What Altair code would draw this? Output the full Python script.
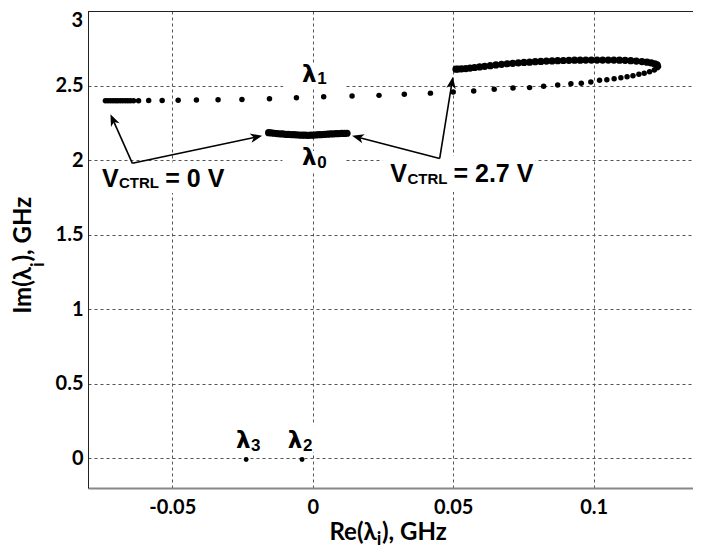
import math
import altair as alt
import pandas as pd

# ---------------- data (GHz) ----------------
# lambda_1 : sparse branch (V_CTRL = 0 V start, moving right)
lam1_re = [-0.0738, -0.0729, -0.0720, -0.0711, -0.0702, -0.0694, -0.0685, -0.0676,
           -0.0667, -0.0658, -0.0649, -0.0638, -0.0620, -0.0584, -0.0536, -0.0479,
           -0.0414, -0.0337, -0.0252, -0.0154, -0.0058, 0.0039, 0.0140, 0.0236,
           0.0326, 0.0419, 0.0500, 0.0573, 0.0646, 0.0713, 0.0772, 0.0822, 0.0872,
           0.0919, 0.0956, 0.0990, 0.1021, 0.1047, 0.1073, 0.1097, 0.1119, 0.1140,
           0.1161, 0.1180, 0.1199, 0.1216, 0.1227, 0.1231]
lam1_im = [2.398, 2.398, 2.398, 2.398, 2.398, 2.398, 2.398, 2.398,
           2.398, 2.398, 2.398, 2.398, 2.398, 2.399, 2.400, 2.401,
           2.403, 2.405, 2.407, 2.411, 2.418, 2.425, 2.430, 2.434,
           2.441, 2.449, 2.457, 2.463, 2.475, 2.484, 2.486, 2.495, 2.503,
           2.512, 2.515, 2.523, 2.535, 2.539, 2.546, 2.552, 2.559, 2.566,
           2.575, 2.582, 2.593, 2.604, 2.619, 2.628]
# lambda_1 : dense branch (back to the left, ending at V_CTRL = 2.7 V)
lam1b_re = [0.1226, 0.1218, 0.1205, 0.1190, 0.1172, 0.1152, 0.1132, 0.1112, 0.1092,
            0.1072, 0.1052, 0.1032, 0.1012, 0.0992, 0.0972, 0.0952, 0.0932, 0.0912,
            0.0892, 0.0872, 0.0852, 0.0832, 0.0812, 0.0792, 0.0772, 0.0752, 0.0732,
            0.0712, 0.0692, 0.0672, 0.0652, 0.0632, 0.0612, 0.0594, 0.0576, 0.0560,
            0.0545, 0.0530, 0.0518, 0.0510]
lam1b_im = [2.638, 2.645, 2.652, 2.657, 2.661, 2.664, 2.667, 2.669, 2.670,
            2.671, 2.671, 2.671, 2.671, 2.671, 2.671, 2.670, 2.670, 2.669,
            2.668, 2.667, 2.665, 2.664, 2.662, 2.660, 2.657, 2.655, 2.652,
            2.649, 2.646, 2.642, 2.638, 2.633, 2.629, 2.625, 2.621, 2.617,
            2.614, 2.612, 2.611, 2.610]
# lambda_0
lam0_re = [-0.0157, -0.0147, -0.0137, -0.0127, -0.0117, -0.0107, -0.0097, -0.0087,
           -0.0077, -0.0067, -0.0057, -0.0047, -0.0037, -0.0027, -0.0017, -0.0007,
           0.0003, 0.0013, 0.0023, 0.0033, 0.0043, 0.0053, 0.0063, 0.0073, 0.0083,
           0.0093, 0.0103, 0.0113, 0.0122]
lam0_im = [2.184, 2.182, 2.180, 2.178, 2.176, 2.175, 2.173, 2.172,
           2.171, 2.170, 2.169, 2.168, 2.167, 2.167, 2.166, 2.167,
           2.168, 2.169, 2.170, 2.171, 2.173, 2.174, 2.175, 2.176, 2.177,
           2.178, 2.179, 2.179, 2.180]
# lambda_2, lambda_3
lam23_re = [-0.0038, -0.0237]
lam23_im = [-0.009, -0.009]

x_tick_values = [-0.05, 0, 0.05, 0.1]
y_tick_values = [0, 0.5, 1, 1.5, 2, 2.5, 3]
x_domain = [-0.08, 0.13537]
y_domain = [-0.2, 3]

# annotation arrows: (vertex x, vertex y, tip x, tip y)
arrow_segments = [(-0.0642, 1.978, -0.0720, 2.307),
                  (-0.0642, 1.978, -0.0180, 2.163),
                  (0.0452, 2.011, 0.0499, 2.559),
                  (0.0452, 2.011, 0.0140, 2.163)]

# ---------------- layout ----------------
PLOT_W, PLOT_H = 605, 477
kx = PLOT_W / (x_domain[1] - x_domain[0])
ky = PLOT_H / (y_domain[1] - y_domain[0])
Y_TOP = y_domain[1]

X_AXIS = alt.Axis(values=x_tick_values, labelExpr="'' + datum.value", title=None,
                  grid=True, gridDash=[3, 3], gridColor="#555", gridWidth=1,
                  ticks=False, tickSize=0, domainColor="#888", domainWidth=2,
                  labelFont="Lato", labelFontWeight="bold", labelFontSize=20,
                  labelColor="black", labelPadding=9, labelBaseline="top",
                  labelOverlap=False)
# the label at the very top edge is drawn separately (kept inside the page)
Y_AXIS = alt.Axis(values=y_tick_values,
                  labelExpr=f"datum.value == {Y_TOP} ? '' : '' + datum.value", title=None,
                  grid=True, gridDash=[3, 3], gridColor="#555", gridWidth=1,
                  ticks=False, tickSize=0, domainColor="#222", domainWidth=1,
                  labelFont="Lato", labelFontWeight="bold", labelFontSize=20,
                  labelColor="black", labelPadding=5, labelBaseline="middle",
                  labelOverlap=False)
XS = alt.Scale(domain=x_domain, nice=False, zero=False)
YS = alt.Scale(domain=y_domain, nice=False, zero=False)


def X(f="x"):
    return alt.X(f"{f}:Q", scale=XS, axis=X_AXIS)


def Y(f="y"):
    return alt.Y(f"{f}:Q", scale=YS, axis=Y_AXIS)


layers = []

# white boxes behind the labels (they hide the grid, as in the figure)
masks = pd.DataFrame([
    dict(x=-0.0105, x2=0.0116, y=2.483, y2=2.651),
    dict(x=-0.0108, x2=0.0116, y=1.919, y2=2.060),
    dict(x=-0.0755, x2=-0.0320, y=1.779, y2=1.985),
    dict(x=0.0248, x2=0.0793, y=1.785, y2=2.030),
    dict(x=-0.0101, x2=0.0013, y=0.040, y2=0.221),
])
layers.append(alt.Chart(masks).mark_rect(color="white").encode(
    x=X(), x2="x2:Q", y=Y(), y2="y2:Q"))

# frame line along the top of the plot
layers.append(alt.Chart(pd.DataFrame({"a": [0]})).mark_rule(color="#222", strokeWidth=1).encode(
    x=alt.value(0), x2=alt.value(PLOT_W), y=alt.value(0.5)))

# arrow shafts and heads
shafts, heads = [], []
for vx, vy, tx, ty in arrow_segments:
    dxp = (tx - vx) * kx
    dyp = -(ty - vy) * ky
    L = math.hypot(dxp, dyp)
    ang = math.degrees(math.atan2(dxp, -dyp)) % 360
    back = 7.0 / L
    shafts.append(dict(x=vx, y=vy, x2=tx - (tx - vx) * back, y2=ty - (ty - vy) * back))
    heads.append(dict(x=tx, y=ty, angle=ang))
layers.append(alt.Chart(pd.DataFrame(shafts)).mark_rule(color="black", strokeWidth=1.6).encode(
    x=X(), y=Y(), x2="x2:Q", y2="y2:Q"))

# eigenvalue points
df1 = pd.DataFrame({"x": lam1_re, "y": lam1_im})
df1b = pd.DataFrame({"x": lam1b_re, "y": lam1b_im})
df0 = pd.DataFrame({"x": lam0_re, "y": lam0_im})
df23 = pd.DataFrame({"x": lam23_re, "y": lam23_im})
layers.append(alt.Chart(df1).mark_circle(color="black", opacity=1, size=30).encode(x=X(), y=Y()))
layers.append(alt.Chart(df1b).mark_circle(color="black", opacity=1, size=52).encode(x=X(), y=Y()))
layers.append(alt.Chart(df0).mark_circle(color="black", opacity=1, size=52).encode(x=X(), y=Y()))
layers.append(alt.Chart(df23).mark_circle(color="black", opacity=1, size=24).encode(x=X(), y=Y()))

layers.append(alt.Chart(pd.DataFrame(heads)).mark_point(
    shape="M0,0L-0.4,1L0,0.72L0.4,1Z", filled=True, color="black", opacity=1, size=560,
    strokeWidth=0).encode(x=X(), y=Y(), angle=alt.Angle("angle:Q", scale=None)))


def text_layer(rows, font, size, align="left", weight="bold"):
    return alt.Chart(pd.DataFrame(rows)).mark_text(
        font=font, fontSize=size, fontWeight=weight, align=align,
        baseline="alphabetic", color="black").encode(x=X(), y=Y(), text="t:N")


# lambda labels
layers.append(text_layer([dict(t="λ", x=-0.0012, y=2.525),
                          dict(t="λ", x=-0.0012, y=1.966),
                          dict(t="λ", x=-0.0247, y=0.065),
                          dict(t="λ", x=-0.0063, y=0.065)],
                         "DejaVu Sans", 23, align="center"))
layers.append(text_layer([dict(t="1", x=0.0016, y=2.508),
                          dict(t="0", x=0.0016, y=1.944),
                          dict(t="3", x=-0.0220, y=0.049),
                          dict(t="2", x=-0.0035, y=0.049)],
                         "Liberation Sans", 17))
# V_CTRL labels
layers.append(text_layer([dict(t="V", x=-0.0750, y=1.821),
                          dict(t="= 0 V", x=-0.0525, y=1.821),
                          dict(t="V", x=0.0276, y=1.854),
                          dict(t="= 2.7 V", x=0.0501, y=1.854)],
                         "Liberation Sans", 25))
layers.append(text_layer([dict(t="CTRL", x=-0.0690, y=1.810),
                          dict(t="CTRL", x=0.0337, y=1.839)],
                         "Liberation Sans", 15))


# pixel-placed texts: top tick label and axis titles with a real subscript
def title_piece(t, px, py, size, align, angle=0, baseline="alphabetic"):
    return alt.Chart(pd.DataFrame({"t": [t]})).mark_text(
        font="Lato", fontSize=size, fontWeight="bold", align=align,
        baseline=baseline, angle=angle, color="black").encode(
        x=alt.value(px), y=alt.value(py), text="t:N")


layers += [
    title_piece(f"{Y_TOP:g}", -5, 0, 20, "right", baseline="top"),
    title_piece("Re(λ", 288.7, 529, 24, "right"),
    title_piece("i", 288.7, 534, 18, "left"),
    title_piece("), GHz", 294.0, 529, 24, "left"),
    title_piece("Im(λ", -57.5, 256, 24, "right", 270),
    title_piece("i", -44.5, 256, 18, "left", 270),
    title_piece("), GHz", -57.5, 250.5, 24, "left", 270),
]

chart = alt.layer(*layers).properties(
    width=PLOT_W, height=PLOT_H,
    padding={"left": 80, "top": 3, "right": 0, "bottom": 61},
    autosize=alt.AutoSizeParams(type="none"),
).configure_view(stroke=None).configure(background="white")

chart.save("out.html", embed_options={"renderer": "svg", "actions": False})
